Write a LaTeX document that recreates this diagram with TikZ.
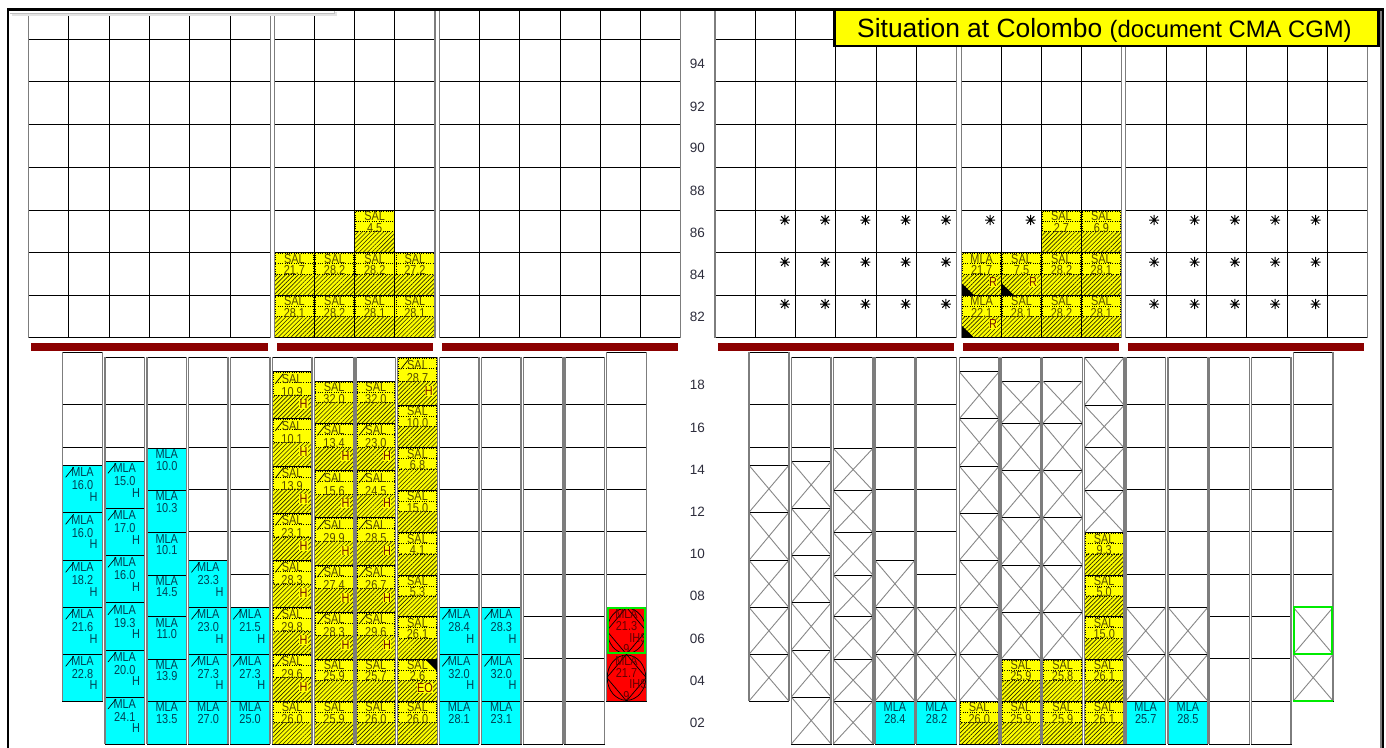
\documentclass[tikz,border=0pt]{standalone}
\usepackage{fontspec}
\setmainfont{Liberation Sans}
\newfontfamily\cellfont[FakeStretch=0.84]{Liberation Sans}
\usetikzlibrary{patterns,patterns.meta}
\definecolor{mlacyan}{RGB}{0,255,255}
\definecolor{salyel}{RGB}{255,255,0}
\definecolor{barred}{RGB}{139,0,0}
\definecolor{mlatxt}{RGB}{0,65,85}
\definecolor{saltxt}{RGB}{85,75,0}
\definecolor{hsal}{RGB}{115,15,0}
\definecolor{redtxt}{RGB}{100,0,0}
\definecolor{sidec}{RGB}{125,125,125}
\definecolor{xgray}{RGB}{135,135,135}
\definecolor{labc}{RGB}{45,45,60}
\definecolor{greenb}{RGB}{0,235,0}
\definecolor{hatchc}{RGB}{40,40,0}
\def\cw{39.6}
% column frame / lines / sides
\newcommand\Kcol[3]{\draw[cellline,fill=white] (#1,#2) rectangle (#1+\cw,#3);}
\newcommand\Klines[2]{\foreach \yy in {#2}{\draw[cellline] (#1,\yy) -- (#1+\cw,\yy);}}
\newcommand\Kside[3]{\draw[sidegray] (#1,#2) -- (#1,#3) (#1+\cw,#2) -- (#1+\cw,#3);}
% X container
\newcommand\Kx[3]{\draw[cellline,fill=white] (#1,#2) rectangle (#1+\cw,#3);
  \draw[xline] (#1,#2) -- (#1+\cw,#3) (#1,#3) -- (#1+\cw,#2);}
% slash and triangles
\newcommand\Kslash[2]{\draw[black,line width=0.7pt] (#1+3,#2+12) -- (#1+11,#2+2);}
\newcommand\Ktribl[2]{\fill[black] (#1,#2) -- (#1,#2-12) -- (#1+12.5,#2) -- cycle;}
\newcommand\Ktritr[2]{\fill[black] (#1+\cw,#2) -- (#1+\cw-12,#2) -- (#1+\cw,#2+12) -- cycle;}
% cyan container
\newcommand\Kmla[5]{%
  \draw[cellline,fill=mlacyan] (#1,#2) rectangle (#1+\cw,#3);
  \node[ctxt,text=mlatxt] at (#1+\cw/2,{#2+0.245*(#3-#2)}) {MLA};
  \node[ctxt,text=mlatxt] at (#1+\cw/2,{#2+0.52*(#3-#2)}) {#4};
  \ifx\relax#5\relax\else\node[ctxt,anchor=base east,text=mlatxt] at (#1+\cw-4.5,{#2+0.76*(#3-#2)}) {#5};\fi}
\newcommand\KmlaH[4]{\Kmla{#1}{#2}{#3}{#4}{H}\Kslash{#1}{#2}}
% yellow container
\newcommand\Kyel[6]{%
  \fill[salyel] (#1,#2) rectangle (#1+\cw,#3);
  \fill[hatch] (#1,{(#2+#3)/2}) rectangle (#1+\cw,#3);
  \draw[dotline] (#1+1,#2+1) -- (#1+\cw-1,#2+1) -- (#1+\cw-1,{(#2+#3)/2}) -- (#1+1,{(#2+#3)/2}) -- cycle;
  \draw[dotline] (#1+1,#2+11) -- (#1+\cw-1,#2+11);
  \draw[cellline] (#1,#2) rectangle (#1+\cw,#3);
  \node[ctxt,text=saltxt] at (#1+\cw/2,{#2+0.245*(#3-#2)}) {#4};
  \node[ctxt,text=saltxt] at (#1+\cw/2,{#2+0.52*(#3-#2)}) {#5};
  \ifx\relax#6\relax\else\node[ctxt,anchor=base east,text=hsal,fill=salyel,inner sep=0.3pt] at (#1+\cw-4,{#2+0.79*(#3-#2)}) {#6};\fi}
\newcommand\Ksal[4]{\Kyel{#1}{#2}{#3}{SAL}{#4}{}}
\newcommand\KsalH[4]{\Kyel{#1}{#2}{#3}{SAL}{#4}{H}\Kslash{#1}{#2}}
% red IMO container
\newcommand\Kred[4]{%
  \fill[red] (#1,#2) rectangle (#1+\cw,#3);
  \draw[black,line width=0.7pt] (#1+\cw/2,{(#2+#3)/2}) ellipse [x radius=19.3, y radius={(#3-#2)/2-0.7}];
  \draw[black,line width=0.7pt] (#1+\cw/2,#2) -- (#1+\cw,{(#2+#3)/2}) -- (#1+\cw/2,#3) -- (#1,{(#2+#3)/2}) -- cycle;
  \node[ctxt,text=redtxt] at (#1+\cw/2,{#2+0.235*(#3-#2)}) {MLA};
  \node[ctxt,text=redtxt] at (#1+\cw/2,{#2+0.49*(#3-#2)}) {#4};
  \node[ctxt,anchor=base east,text=redtxt] at (#1+\cw+1.5,{#2+0.74*(#3-#2)}) {IHS};
  \node[ctxt,text=redtxt] at (#1+\cw/2,#3-1) {9};}
% asterisk
\newcommand\Kast[2]{\draw[astline] (#1-5,#2) -- (#1+5,#2) (#1,#2-5.2) -- (#1,#2+5.2) (#1-3.7,#2-3.7) -- (#1+3.7,#2+3.7) (#1-3.7,#2+3.7) -- (#1+3.7,#2-3.7);}
% top grid block: x0, w, n, internal indices
\newcommand\Ktop[4]{%
  \fill[white] (#1,11) rectangle (#1+#3*#2,337.7);
  \foreach \k in {#4}{\draw[cellline] (#1+\k*#2,11) -- (#1+\k*#2,337.7);}
  \foreach \yy in {39.3,81.7,124.3,167.3,210,252.7,295.3,337.7}{\draw[cellline] (#1,\yy) -- (#1+#3*#2,\yy);}}
\newcommand\Ktopside[3]{\draw[sidegray] (#1,11) -- (#1,337.7) (#1+#3*#2,11) -- (#1+#3*#2,337.7);}
\begin{document}
\begin{tikzpicture}[x=1pt,y=-1pt,
  cellline/.style={draw=black,line width=0.9pt},
  xline/.style={draw=xgray,line width=0.9pt},
  sidegray/.style={draw=sidec,line width=1.4pt},
  dotline/.style={draw=black,line width=0.6pt,dash pattern=on 0.8pt off 1.5pt},
  hatch/.style={pattern={Lines[angle=45,distance=3pt,line width=0.65pt]},pattern color=hatchc},
  ctxt/.style={font=\cellfont\fontsize{13}{14}\selectfont,inner sep=0pt,anchor=base},
  rowlab/.style={font=\fontsize{13.5}{14}\selectfont,text=labc,inner sep=0pt},
  astline/.style={draw=black,line width=1pt}]
\useasboundingbox (0,0) rectangle (1386,747);
\fill[white] (0,0) rectangle (1386,747);

% ---------------- top (on deck) grid
\Ktop{28.3}{40.33}{6}{1,2,3,4,5}
\Ktop{274.3}{40.17}{4}{1,2,3}
\Ktop{439.3}{40.23}{6}{1,2,3,4,5}
\Ktop{715}{40.28}{6}{1,2,3,4,5}
\Ktop{961.7}{39.9}{4}{1,2,3}
\Ktop{1125.7}{40.33}{6}{1,2,3,4,5}

\def\cw{40.17}
\Ksal{354.64}{210}{252.7}{4.5}
\Ksal{274.3}{252.7}{295.3}{21.7}
\Ksal{314.47}{252.7}{295.3}{28.2}
\Ksal{354.64}{252.7}{295.3}{28.2}
\Ksal{394.81}{252.7}{295.3}{27.2}
\Ksal{274.3}{295.3}{337.7}{28.1}
\Ksal{314.47}{295.3}{337.7}{28.2}
\Ksal{354.64}{295.3}{337.7}{28.1}
\Ksal{394.81}{295.3}{337.7}{28.1}
\def\cw{39.9}
\Ksal{1041.5}{210}{252.7}{2.7}
\Ksal{1081.4}{210}{252.7}{6.9}
\Kyel{961.7}{252.7}{295.3}{MLA}{21.7}{R}\Ktribl{961.7}{295.3}
\Kyel{1001.6}{252.7}{295.3}{SAL}{7.5}{R}\Ktribl{1001.6}{295.3}
\Ksal{1041.5}{252.7}{295.3}{28.2}
\Ksal{1081.4}{252.7}{295.3}{28.1}
\Kyel{961.7}{295.3}{337.7}{MLA}{22.1}{R}\Ktribl{961.7}{337.7}
\Ksal{1001.6}{295.3}{337.7}{28.1}
\Ksal{1041.5}{295.3}{337.7}{28.2}
\Ksal{1081.4}{295.3}{337.7}{28.1}

\foreach \ax in {784.8,825.1,865.4,905.6,945.9,1154.2,1194.5,1234.9,1275.2,1315.5}{
  \foreach \ay in {220,262,304}{\Kast{\ax}{\ay}}}
\Kast{990.2}{220}
\Kast{1030.6}{220}

\Ktopside{28.3}{40.33}{6}
\Ktopside{274.3}{40.17}{4}
\Ktopside{439.3}{40.23}{6}
\Ktopside{715}{40.28}{6}
\Ktopside{961.7}{39.9}{4}
\Ktopside{1125.7}{40.33}{6}

% hatch-cover bars
\foreach \xa/\xb in {31/267.7,276.7/432.7,441.7/678.3,718.3/954.3,963.3/1119.3,1128.3/1364.3}{
  \fill[barred] (\xa,343.3) rectangle (\xb,351);}

% ---------------- left hold
\def\cw{39.6}
% c1
\Kcol{62.7}{352.3}{701}
\Klines{62.7}{404.3,447.3}
\KmlaH{62.7}{654.3}{701}{22.8}
\KmlaH{62.7}{607.3}{654.3}{21.6}
\KmlaH{62.7}{560.3}{607.3}{18.2}
\KmlaH{62.7}{512.3}{560.3}{16.0}
\KmlaH{62.7}{465.3}{512.3}{16.0}
\Kside{62.7}{352.3}{701}
% c2
\Kcol{105}{357.3}{744}
\Klines{105}{404.3,447.3}
\KmlaH{105}{697}{744}{24.1}
\KmlaH{105}{650}{697}{20.0}
\KmlaH{105}{602.7}{650}{19.3}
\KmlaH{105}{555.3}{602.7}{16.0}
\KmlaH{105}{508.3}{555.3}{17.0}
\KmlaH{105}{461.3}{508.3}{15.0}
\Kside{105}{357.3}{744}
% c3
\Kcol{147}{357.3}{744}
\Klines{147}{404.3}
\Kmla{147}{701}{744}{13.5}{}
\Kmla{147}{659.3}{701}{13.9}{}
\Kmla{147}{616.7}{659.3}{11.0}{}
\Kmla{147}{575}{616.7}{14.5}{}
\Kmla{147}{532.7}{575}{10.1}{}
\Kmla{147}{490.7}{532.7}{10.3}{}
\Kmla{147}{448.3}{490.7}{10.0}{}
\Kside{147}{357.3}{744}
% c4
\Kcol{188.5}{357.3}{744}
\Klines{188.5}{404.3,447.3,489,531.7}
\Kmla{188.5}{701}{744}{27.0}{}
\KmlaH{188.5}{654.3}{701}{27.3}
\KmlaH{188.5}{607.3}{654.3}{23.0}
\KmlaH{188.5}{560.3}{607.3}{23.3}
\Kside{188.5}{357.3}{744}
% c5
\Kcol{230.3}{357.3}{744}
\Klines{230.3}{404.3,447.3,489,531.7,574}
\Kmla{230.3}{701}{744}{25.0}{}
\KmlaH{230.3}{654.3}{701}{27.3}
\KmlaH{230.3}{607.3}{654.3}{21.5}
\Kside{230.3}{357.3}{744}
% c6
\Kcol{272.3}{357.3}{744}
\Ksal{272.3}{701}{744}{26.0}
\KsalH{272.3}{654.3}{701}{29.6}
\KsalH{272.3}{607.3}{654.3}{29.8}
\KsalH{272.3}{560.3}{607.3}{28.3}
\KsalH{272.3}{513.3}{560.3}{23.1}
\KsalH{272.3}{466}{513.3}{13.9}
\KsalH{272.3}{418.7}{466}{10.1}
\KsalH{272.3}{371.7}{418.7}{10.9}
\Kside{272.3}{357.3}{744}
% c7
\Kcol{314.3}{357.3}{744}
\Ksal{314.3}{701}{744}{25.9}
\Ksal{314.3}{659.3}{701}{25.9}
\KsalH{314.3}{612}{659.3}{28.3}
\KsalH{314.3}{565}{612}{27.4}
\KsalH{314.3}{517.7}{565}{29.9}
\KsalH{314.3}{470.7}{517.7}{15.6}
\KsalH{314.3}{423.3}{470.7}{13.4}
\Ksal{314.3}{381}{423.3}{32.0}
\Kside{314.3}{357.3}{744}
% c8
\Kcol{356}{357.3}{744}
\Ksal{356}{701}{744}{26.0}
\Ksal{356}{659.3}{701}{25.7}
\KsalH{356}{612}{659.3}{29.6}
\KsalH{356}{565}{612}{26.7}
\KsalH{356}{517.7}{565}{28.5}
\KsalH{356}{470.7}{517.7}{24.5}
\KsalH{356}{423.3}{470.7}{23.0}
\Ksal{356}{381}{423.3}{32.0}
\Kside{356}{357.3}{744}
% c9
\Kcol{397.7}{357.3}{744}
\Ksal{397.7}{701}{744}{26.0}
\Kyel{397.7}{659.3}{701}{SAL}{2.6}{EO}\Ktritr{397.7}{659.3}
\Ksal{397.7}{616.7}{659.3}{26.1}
\Ksal{397.7}{575}{616.7}{5.3}
\Ksal{397.7}{532.7}{575}{4.1}
\Ksal{397.7}{490}{532.7}{15.0}
\Ksal{397.7}{447.7}{490}{6.8}
\Ksal{397.7}{405.3}{447.7}{10.0}
\KsalH{397.7}{357.3}{405.3}{28.7}
\Kside{397.7}{357.3}{744}
% c10
\Kcol{439.3}{357.3}{744}
\Klines{439.3}{404.3,447.3,489,531.7,574}
\Kmla{439.3}{701}{744}{28.1}{}
\KmlaH{439.3}{654.3}{701}{32.0}
\KmlaH{439.3}{607.3}{654.3}{28.4}
\Kside{439.3}{357.3}{744}
% c11
\Kcol{481.5}{357.3}{744}
\Klines{481.5}{404.3,447.3,489,531.7,574}
\Kmla{481.5}{701}{744}{23.1}{}
\KmlaH{481.5}{654.3}{701}{32.0}
\KmlaH{481.5}{607.3}{654.3}{28.3}
\Kside{481.5}{357.3}{744}
% c12, c13
\Kcol{523.3}{357.3}{744}
\Klines{523.3}{404.3,447.3,489,531.7,574,616.7,658.3,701}
\Kside{523.3}{357.3}{744}
\Kcol{564.8}{357.3}{744}
\Klines{564.8}{404.3,447.3,489,531.7,574,616.7,658.3,701}
\Kside{564.8}{357.3}{744}
% c14
\Kcol{606.7}{352.3}{701}
\Klines{606.7}{404.3,447.3,489,531.7,574}
\Kred{606.7}{607.3}{654.3}{21.3}
\Kred{606.7}{654.3}{701}{21.7}
\Kside{606.7}{352.3}{701}
\draw[greenb,line width=2pt] (607.7,608.3) rectangle (606.7+\cw-1,653.3);

% ---------------- right hold
\def\cw{39.8}
% r1
\Kcol{749}{352.3}{701}
\Klines{749}{404.3,447.3}
\Kx{749}{465.3}{512.3}\Kx{749}{512.3}{560.3}\Kx{749}{560.3}{607.3}\Kx{749}{607.3}{654.3}\Kx{749}{654.3}{701}
\Kside{749}{352.3}{701}
% r2
\Kcol{791.3}{357.3}{744}
\Klines{791.3}{404.3,447.3}
\Kx{791.3}{461.3}{508.3}\Kx{791.3}{508.3}{555.3}\Kx{791.3}{555.3}{602.7}\Kx{791.3}{602.7}{650}\Kx{791.3}{650}{697}\Kx{791.3}{697}{744}
\Kside{791.3}{357.3}{744}
% r3
\Kcol{833.2}{357.3}{744}
\Klines{833.2}{404.3}
\Kx{833.2}{448.3}{490.7}\Kx{833.2}{490.7}{532.7}\Kx{833.2}{532.7}{575}\Kx{833.2}{575}{616.7}\Kx{833.2}{616.7}{659.3}\Kx{833.2}{659.3}{701}\Kx{833.2}{701}{744}
\Kside{833.2}{357.3}{744}
% r4
\Kcol{875}{357.3}{744}
\Klines{875}{404.3,447.3,489,531.7}
\Kmla{875}{701}{744}{28.4}{}
\Kx{875}{654.3}{701}\Kx{875}{607.3}{654.3}\Kx{875}{560.3}{607.3}
\Kside{875}{357.3}{744}
% r5
\Kcol{916.7}{357.3}{744}
\Klines{916.7}{404.3,447.3,489,531.7,574}
\Kmla{916.7}{701}{744}{28.2}{}
\Kx{916.7}{654.3}{701}\Kx{916.7}{607.3}{654.3}
\Kside{916.7}{357.3}{744}
% r6
\Kcol{959.3}{357.3}{744}
\Ksal{959.3}{701}{744}{26.0}
\Kx{959.3}{654.3}{701}\Kx{959.3}{607.3}{654.3}\Kx{959.3}{560.3}{607.3}\Kx{959.3}{513.3}{560.3}\Kx{959.3}{466}{513.3}\Kx{959.3}{418.7}{466}\Kx{959.3}{371.7}{418.7}
\Kside{959.3}{357.3}{744}
% r7
\Kcol{1001}{357.3}{744}
\Ksal{1001}{701}{744}{25.9}
\Ksal{1001}{659.3}{701}{25.9}
\Kx{1001}{612}{659.3}\Kx{1001}{565}{612}\Kx{1001}{517.7}{565}\Kx{1001}{470.7}{517.7}\Kx{1001}{423.3}{470.7}\Kx{1001}{381}{423.3}
\Kside{1001}{357.3}{744}
% r8
\Kcol{1042.7}{357.3}{744}
\Ksal{1042.7}{701}{744}{25.9}
\Ksal{1042.7}{659.3}{701}{25.8}
\Kx{1042.7}{612}{659.3}\Kx{1042.7}{565}{612}\Kx{1042.7}{517.7}{565}\Kx{1042.7}{470.7}{517.7}\Kx{1042.7}{423.3}{470.7}\Kx{1042.7}{381}{423.3}
\Kside{1042.7}{357.3}{744}
% r9
\Kcol{1084.3}{357.3}{744}
\Ksal{1084.3}{701}{744}{26.1}
\Ksal{1084.3}{659.3}{701}{26.1}
\Ksal{1084.3}{616.7}{659.3}{15.0}
\Ksal{1084.3}{575}{616.7}{5.0}
\Ksal{1084.3}{532.7}{575}{9.3}
\Kx{1084.3}{490}{532.7}\Kx{1084.3}{447.7}{490}\Kx{1084.3}{405.3}{447.7}\Kx{1084.3}{357.3}{405.3}
\Kside{1084.3}{357.3}{744}
% r10, r11
\Kcol{1125.8}{357.3}{744}
\Klines{1125.8}{404.3,447.3,489,531.7,574}
\Kmla{1125.8}{701}{744}{25.7}{}
\Kx{1125.8}{654.3}{701}\Kx{1125.8}{607.3}{654.3}
\Kside{1125.8}{357.3}{744}
\Kcol{1168}{357.3}{744}
\Klines{1168}{404.3,447.3,489,531.7,574}
\Kmla{1168}{701}{744}{28.5}{}
\Kx{1168}{654.3}{701}\Kx{1168}{607.3}{654.3}
\Kside{1168}{357.3}{744}
% r12, r13
\Kcol{1209.7}{357.3}{744}
\Klines{1209.7}{404.3,447.3,489,531.7,574,616.7,658.3,701}
\Kside{1209.7}{357.3}{744}
\Kcol{1251.3}{357.3}{744}
\Klines{1251.3}{404.3,447.3,489,531.7,574,616.7,658.3,701}
\Kside{1251.3}{357.3}{744}
% r14
\Kcol{1293.3}{352.3}{701}
\Klines{1293.3}{404.3,447.3,489,531.7,574}
\Kx{1293.3}{607.3}{654.3}\Kx{1293.3}{654.3}{701}
\Kside{1293.3}{352.3}{701}
\draw[greenb,line width=2pt] (1294.3,607.3) rectangle (1293.3+\cw-1,654.3);
\draw[greenb,line width=1.2pt] (1293.3,701) -- (1293.3+\cw,701);

% ---------------- row labels
\foreach \lab/\ly in {94/63.7,92/106.5,90/148,88/190.5,86/233,84/274.7,82/317,
  18/385,16/428,14/469.5,12/512,10/553.8,08/596.2,06/639,04/680.8,02/723.3}{
  \node[rowlab] at (697.3,\ly) {\lab};}

% ---------------- frame, tab, title
\fill[white] (9.5,10.5) rectangle (334,13);
\draw[gray!50,line width=0.8pt] (10,13.2) -- (334,13.2) -- (334,10.5);
\draw[gray!22,line width=2pt] (12,15) -- (336,15) -- (336,12);
\draw[line width=2.5pt] (8.2,748) -- (8.2,9.6) -- (1383,9.6) -- (1383,748);
\draw[sidec,line width=1.2pt] (1381,11) -- (1381,748);
\draw[line width=2.2pt,fill=salyel] (834.5,10.3) rectangle (1378.5,45.8);
\node[anchor=base west,inner sep=0pt,font=\fontsize{26.4}{27}\selectfont] (title) at (857,37.3)
  {Situation at Colombo \fontsize{23.8}{24}\selectfont(document CMA CGM)};
\end{tikzpicture}
\end{document}
